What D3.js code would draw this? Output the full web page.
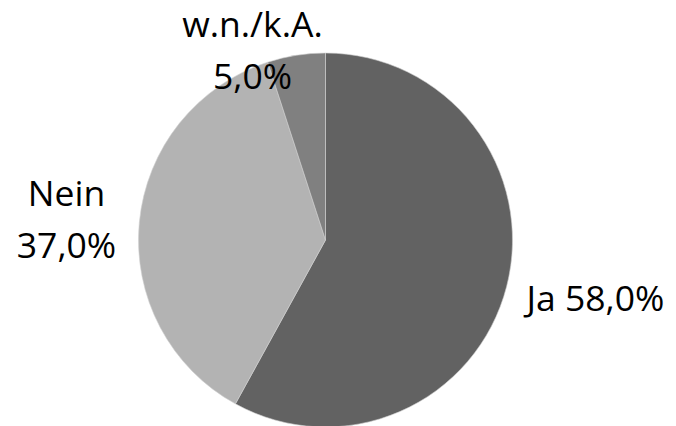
<!DOCTYPE html>
<html><head><meta charset="utf-8">
<script src="https://cdn.jsdelivr.net/npm/d3@7"></script>
<style>body{margin:0;background:#fff}svg{display:block}text{font-family:"Open Sans","Noto Sans",sans-serif;fill:#000}</style>
</head><body>
<svg id="c" width="676" height="426"></svg>
<script>
const categories = ["Ja", "Nein", "w.n./k.A."];
const values = [58.0, 37.0, 5.0];
const colors = ["#626262", "#b3b3b3", "#808080"];

const svg = d3.select("#c");
const cx = 325.5, cy = 240, r = 187;
const g = svg.append("g").attr("transform", `translate(${cx},${cy})`);
const pie = d3.pie().sort(null).value(d => d)(values);
const arc = d3.arc().innerRadius(0).outerRadius(r);
g.selectAll("path").data(pie).enter().append("path")
  .attr("d", arc).attr("fill", (d, i) => colors[i])
  .attr("stroke", "#d0d0d0").attr("stroke-width", 0.6);

const fmt = v => v.toFixed(1).replace(".", ",") + "%";
const fs = 35.5;
function add(x, y, lines, anchor) {
  const t = svg.append("text").attr("x", x).attr("y", y).attr("text-anchor", anchor).style("font-size", fs + "px");
  lines.forEach((l, k) => t.append("tspan").attr("x", x).attr("dy", k === 0 ? 0 : 52).text(l));
}
// Ja
add(cx + 201, 311, [categories[0] + " " + fmt(values[0])], "start");
// Nein
add(cx - 259, 206, [categories[1], fmt(values[1])], "middle");
// w.n./k.A.
add(cx - 73, 37, [categories[2], fmt(values[2])], "middle");
</script>
</body></html>
